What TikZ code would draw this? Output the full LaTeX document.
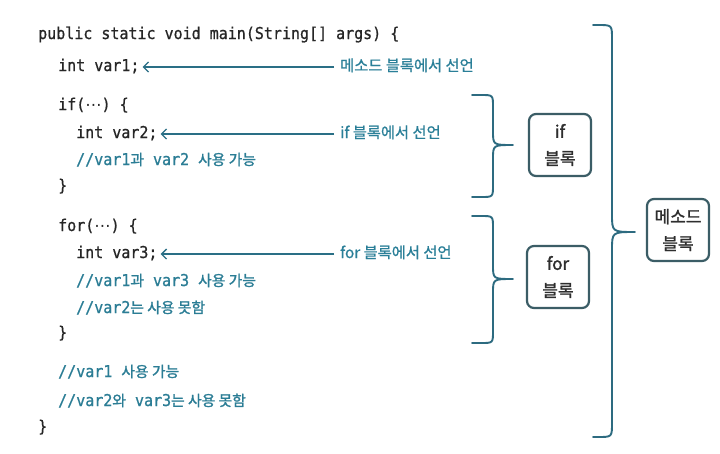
\documentclass[tikz,border=0pt]{standalone}
\usepackage{fontspec}
\newfontfamily\codefont[FakeStretch=0.92,FakeBold=0.8]{DejaVu Sans Mono}
\newfontfamily\kr[FakeBold=1.5]{Noto Sans CJK KR}
\newfontfamily\krl[FakeBold=0.8]{Noto Sans CJK KR}
\newfontfamily\dvs{DejaVu Sans}
\usetikzlibrary{arrows.meta}
\definecolor{codegray}{HTML}{262626}
\definecolor{cmtteal}{HTML}{2B7D95}
\definecolor{lblteal}{HTML}{2A7F98}
\definecolor{arrteal}{HTML}{2A6F86}
\definecolor{brcteal}{HTML}{2D6B80}
\definecolor{boxgray}{HTML}{3B5D66}
\definecolor{boxtext}{HTML}{2E2E2E}
\newcommand{\hg}[1]{{\kr\fontsize{14.8}{18}\selectfont #1}}
\newcommand{\mdots}{{\dvs ⋯}}
\newcommand{\curlybrace}[8]{%
  \draw[brc] (#1,#4) -- ({#2-#7},#4) .. controls (#2,#4) .. (#2,{#4+#7})
    -- (#2,{#5-#8}) .. controls (#2,#5) .. (#3,#5)
    .. controls (#2,#5) .. (#2,{#5+#8})
    -- (#2,{#6-#7}) .. controls (#2,#6) .. ({#2-#7},#6) -- (#1,#6);}
\tikzset{
  code/.style={anchor=west, inner sep=0pt, text height=11pt, text depth=3pt,
    font=\codefont\fontsize{16.3}{18}\selectfont, text=codegray},
  cmt/.style={code, text=cmtteal},
  lbl/.style={anchor=west, inner sep=0pt, text height=11pt, text depth=3pt,
    font=\krl\fontsize{15.3}{16}\selectfont, text=lblteal},
  arr/.style={draw=arrteal, line width=1.3pt, shorten <=6pt, shorten >=3pt,
    -{Straight Barb[length=5pt,width=10pt,line width=1.3pt]}},
  brc/.style={draw=brcteal, line width=1.9pt, line cap=round, line join=round},
  blk/.style={draw=boxgray, line width=2.2pt, rounded corners=7pt,
    minimum width=62pt, minimum height=62pt, align=center,
    font=\kr\fontsize{17}{27}\selectfont, text=boxtext, inner sep=2pt},
}
\begin{document}
\begin{tikzpicture}[x=1pt,y=-1pt]
\useasboundingbox[fill=white] (0,0) rectangle (720,453);
% code lines
\node[code] (c1) at (38,35) {public static void main(String[] args) \{};
\node[code] (c2) at (58,67) {int var1;};
\node[code] (c3) at (58,106) {if(\mdots) \{};
\node[code] (c4) at (76,134) {int var2;};
\node[cmt]  (c5) at (76,161) {//var1\hg{과} var2 \hg{사용 가능}};
\node[code] (c6) at (58,187) {\}};
\node[code] (c7) at (58,227) {for(\mdots) \{};
\node[code] (c8) at (76,254) {int var3;};
\node[cmt]  (c9) at (76,282) {//var1\hg{과} var3 \hg{사용 가능}};
\node[cmt]  (c10) at (76,309) {//var2\hg{는 사용 못함}};
\node[code] (c11) at (58,334) {\}};
\node[cmt]  (c12) at (58,373) {//var1 \hg{사용 가능}};
\node[cmt]  (c13) at (58,402) {//var2\hg{와} var3\hg{는 사용 못함}};
\node[code] (c14) at (38,428) {\}};
% labels
\node[lbl] (l1) at (340,67) {메소드 블록에서 선언};
\node[lbl] (l2) at (340,134) {if 블록에서 선언};
\node[lbl] (l3) at (340,254) {for 블록에서 선언};
\draw[arr] (l1.west) -- (c2.east);
\draw[arr] (l2.west) -- (c4.east);
\draw[arr] (l3.west) -- (c8.east);
% braces
\curlybrace{472}{493}{513}{95}{145}{197}{12}{14}
\curlybrace{472}{493}{513}{216}{279}{343}{12}{14}
\curlybrace{593}{612}{635}{25}{232}{437}{14}{18}
% boxes
\node[blk] (b1) at (560,145) {if\\블록};
\node[blk] (b2) at (558,277) {for\\블록};
\node[blk] (b3) at (678,230) {메소드\\블록};
\end{tikzpicture}
\end{document}
